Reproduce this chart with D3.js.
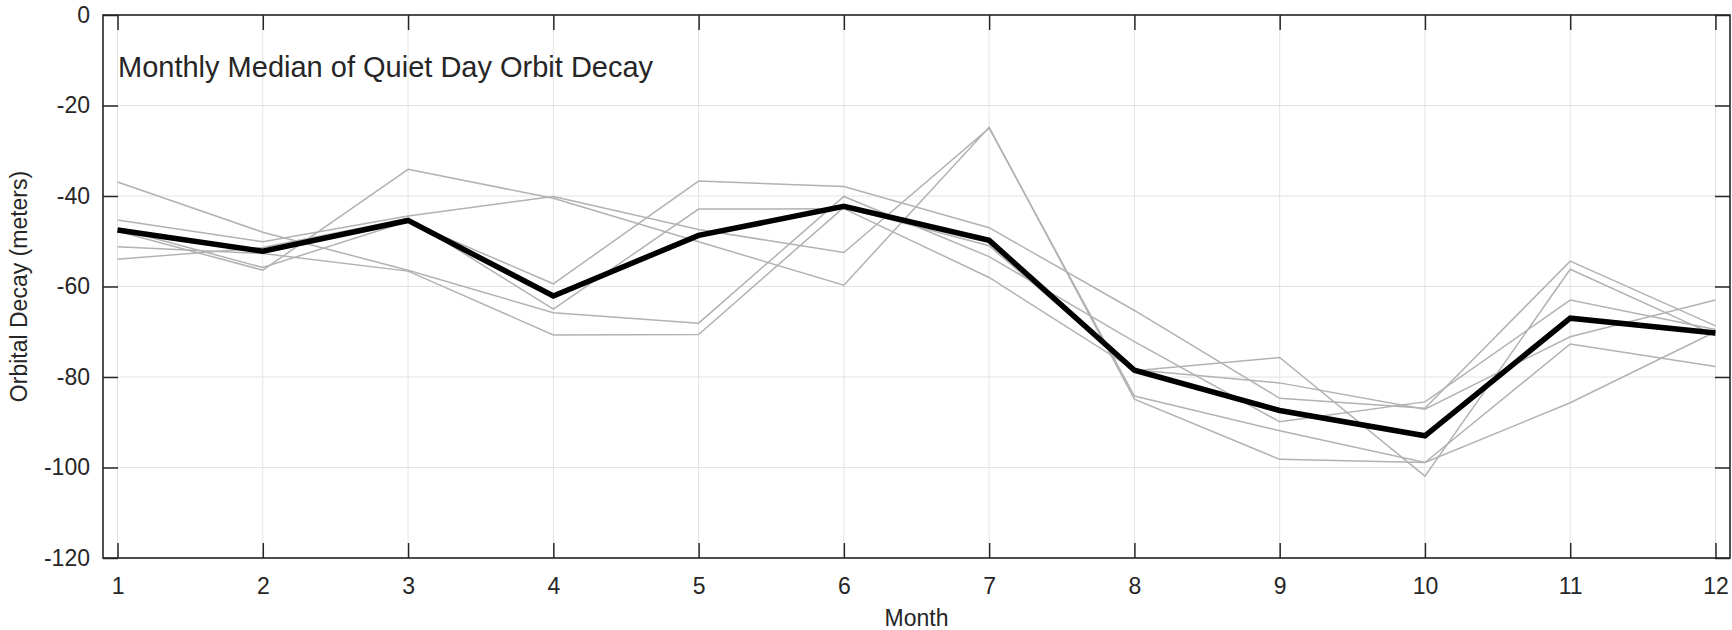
<!DOCTYPE html>
<html>
<head>
<meta charset="utf-8">
<script src="https://cdn.jsdelivr.net/npm/d3@7/dist/d3.min.js"></script>
<style>
  html, body { margin: 0; padding: 0; background: #ffffff; }
  svg { display: block; }
  text { font-family: "Liberation Sans", Arial, Helvetica, sans-serif; fill: #262626; }
</style>
</head>
<body>
<svg id="chart" width="1732" height="630"></svg>
<script>
// Month index along the horizontal axis
const months = [1, 2, 3, 4, 5, 6, 7, 8, 9, 10, 11, 12];
// Vertical tick values (meters)
const decayTicks = [0, -20, -40, -60, -80, -100, -120];

// Individual traces of quiet-day orbit decay per month (meters)
const trace1 = [-36.9, -48.0, -56.4, -65.8, -68.1, -40.1, -53.4, -72.2, -89.9, -85.5, -63.0, -69.5];
const trace2 = [-45.3, -50.1, -44.4, -40.1, -47.4, -52.5, -25.0, -84.2, -91.9, -98.9, -72.7, -77.7];
const trace3 = [-47.2, -55.8, -45.6, -59.4, -36.7, -37.9, -47.0, -65.3, -84.7, -86.9, -54.4, -68.7];
const trace4 = [-47.8, -56.4, -34.1, -40.5, -50.1, -59.7, -24.8, -84.9, -98.2, -98.9, -85.7, -70.0];
const trace5 = [-51.2, -52.7, -56.6, -70.7, -70.6, -42.5, -51.0, -78.6, -75.7, -101.9, -56.2, -70.8];
const trace6 = [-54.0, -51.4, -45.0, -65.0, -42.9, -42.8, -58.0, -78.4, -81.3, -87.1, -71.1, -63.0];

// Monthly median across the traces (meters)
const medianDecay = [-47.5, -52.2, -45.4, -62.1, -48.7, -42.3, -49.8, -78.5, -87.4, -93.0, -67.0, -70.3];

const traces = [trace1, trace2, trace3, trace4, trace5, trace6];

const titleText = "Monthly Median of Quiet Day Orbit Decay";
const xLabel = "Month";
const yLabel = "Orbital Decay (meters)";

const svg = d3.select("#chart");
const box = { left: 103, right: 1730, top: 15, bottom: 558 };

const x = d3.scaleLinear().domain([0.9, 12.1]).range([box.left, box.right]);
const y = d3.scaleLinear().domain([-120, 0]).range([box.bottom, box.top]);

const axisColor = "#262626";
const tickLen = 15;
const fontStack = '"Liberation Sans", Arial, Helvetica, sans-serif';

// Grid
const grid = svg.append("g").attr("class", "grid");
grid.selectAll("line.gx").data(months).join("line")
  .attr("class", "gx")
  .attr("x1", d => x(d)).attr("x2", d => x(d))
  .attr("y1", box.top).attr("y2", box.bottom)
  .attr("stroke", "#e3e3e3").attr("stroke-width", 1);
grid.selectAll("line.gy").data(decayTicks).join("line")
  .attr("class", "gy")
  .attr("x1", box.left).attr("x2", box.right)
  .attr("y1", d => y(d)).attr("y2", d => y(d))
  .attr("stroke", "#e3e3e3").attr("stroke-width", 1);

// Lines
const line = d3.line().x((d, i) => x(months[i])).y(d => y(d));

svg.append("g").attr("class", "traces")
  .selectAll("path").data(traces).join("path")
  .attr("d", d => line(d))
  .attr("fill", "none")
  .attr("stroke", "#b2b2b2")
  .attr("stroke-width", 1.5)
  .attr("stroke-linejoin", "miter");

svg.append("path")
  .attr("class", "median")
  .attr("d", line(medianDecay))
  .attr("fill", "none")
  .attr("stroke", "#000000")
  .attr("stroke-width", 5.5)
  .attr("stroke-linejoin", "miter");

// Axes with inward ticks on all four sides
const plainNumber = d => String(d);

function styleAxis(g) {
  g.selectAll(".domain").remove();
  g.selectAll(".tick line").attr("stroke", axisColor).attr("stroke-width", 1.5);
  g.selectAll(".tick text")
    .style("font-family", fontStack)
    .style("font-size", "23px")
    .attr("fill", axisColor);
}

svg.append("g")
  .attr("transform", `translate(0,${box.bottom})`)
  .call(d3.axisBottom(x).tickValues(months).tickFormat(plainNumber)
        .tickSizeInner(-tickLen).tickSizeOuter(0).tickPadding(20))
  .call(styleAxis);

svg.append("g")
  .attr("transform", `translate(0,${box.top})`)
  .call(d3.axisTop(x).tickValues(months).tickFormat("")
        .tickSizeInner(-tickLen).tickSizeOuter(0))
  .call(styleAxis);

svg.append("g")
  .attr("transform", `translate(${box.left},0)`)
  .call(d3.axisLeft(y).tickValues(decayTicks).tickFormat(plainNumber)
        .tickSizeInner(-tickLen).tickSizeOuter(0).tickPadding(13))
  .call(styleAxis);

svg.append("g")
  .attr("transform", `translate(${box.right},0)`)
  .call(d3.axisRight(y).tickValues(decayTicks).tickFormat("")
        .tickSizeInner(-tickLen).tickSizeOuter(0))
  .call(styleAxis);

// Box outline
svg.append("rect")
  .attr("x", box.left).attr("y", box.top)
  .attr("width", box.right - box.left).attr("height", box.bottom - box.top)
  .attr("fill", "none").attr("stroke", axisColor).attr("stroke-width", 1.6);

// Title inside the axes
svg.append("text")
  .attr("x", 118).attr("y", 77)
  .style("font-size", "29px")
  .attr("fill", "#000000")
  .text(titleText);

// Axis labels
svg.append("text")
  .attr("x", (box.left + box.right) / 2).attr("y", 626)
  .attr("text-anchor", "middle")
  .style("font-size", "23px")
  .text(xLabel);

svg.append("text")
  .attr("transform", `translate(27,${(box.top + box.bottom) / 2}) rotate(-90)`)
  .attr("text-anchor", "middle")
  .style("font-size", "23px")
  .text(yLabel);
</script>
</body>
</html>
